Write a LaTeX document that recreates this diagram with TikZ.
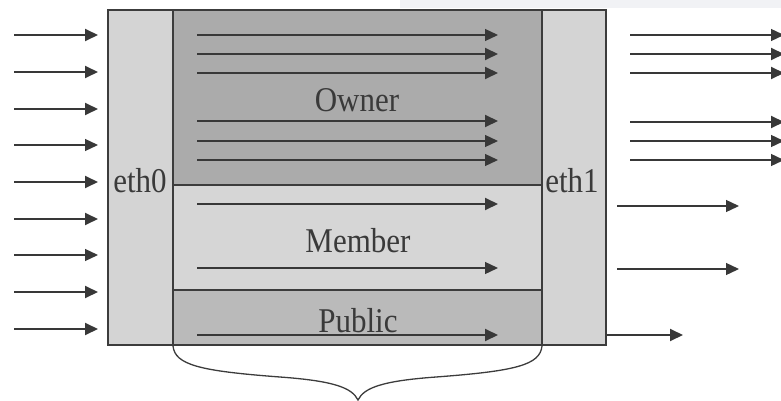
\documentclass[tikz,border=0pt]{standalone}
\usepackage{fontspec}
\setmainfont{Liberation Serif}
\usetikzlibrary{arrows.meta}
\definecolor{ethgray}{HTML}{D4D4D4}
\definecolor{ownergray}{HTML}{ABABAB}
\definecolor{membergray}{HTML}{D6D6D6}
\definecolor{publicgray}{HTML}{BABABA}
\definecolor{boxline}{HTML}{3C3C3C}
\definecolor{flowgray}{HTML}{383838}
\definecolor{labelgray}{HTML}{3A3A3A}
\definecolor{hazeband}{HTML}{F1F2F5}
\begin{document}
\begin{tikzpicture}[x=1pt,y=-1pt,
  flow/.style={draw=flowgray, line width=1.9pt, -{Triangle[length=13pt,width=12pt]}},
  thinflow/.style={flow, line width=1.3pt},
  lbl/.style={font=\fontsize{31}{31}\selectfont, text=labelgray, inner sep=0pt, anchor=base, yscale=1.12}
]
\useasboundingbox (0,0) rectangle (781,401);

% faint band along the top edge
\fill[hazeband] (400,0) rectangle (781,8);

% filled regions of the gateway
\fill[ethgray]    (108,10)  rectangle (173,345);
\fill[ethgray]    (542,10)  rectangle (606,345);
\fill[ownergray]  (173,10)  rectangle (542,185);
\fill[membergray] (173,185) rectangle (542,290);
\fill[publicgray] (173,290) rectangle (542,345);

% outlines
\draw[boxline, line width=1.3pt] (108,10) rectangle (606,345);
\draw[boxline, line width=1.3pt] (173,10) -- (173,345) (542,10) -- (542,345);
\draw[boxline, line width=2pt] (173,185) -- (542,185) (173,290) -- (542,290);

% labels
\node[lbl] (eth0)   at (140,192) {eth0};
\node[lbl] (eth1)   at (572,192) {eth1};
\node[lbl] (owner)  at (357,112) {Owner};
\node[lbl] (member) at (358,252) {Member};
\node[lbl] (public) at (358,332) {Public};

% incoming traffic on eth0
\foreach \y in {35,72,109,182,219,292,329}
  \draw[flow] (14,\y) -- (98,\y);
\foreach \y in {145,255}
  \draw[thinflow] (14,\y) -- (98,\y);

% traffic through the owner, member and public classes
\foreach \y in {54,73,121,204,335}
  \draw[flow] (197,\y) -- (498,\y);
\foreach \y in {35,141,160,268}
  \draw[thinflow] (197,\y) -- (498,\y);

% outgoing traffic on eth1
\foreach \y in {54,73,122}
  \draw[flow] (630,\y) -- (784,\y);
\foreach \y in {35,141,160}
  \draw[thinflow] (630,\y) -- (784,\y);
\foreach \y in {206,269}
  \draw[thinflow] (617,\y) -- (739,\y);
\draw[flow] (607,335) -- (683,335);

% brace under the three classes
\draw[boxline, line width=1.3pt]
  (173,346) .. controls (175,365) and (200,371) .. (280,377)
            .. controls (335,381) and (352,388) .. (358,400)
            .. controls (364,388) and (381,381) .. (436,377)
            .. controls (516,371) and (540,365) .. (542,346);
\end{tikzpicture}
\end{document}
